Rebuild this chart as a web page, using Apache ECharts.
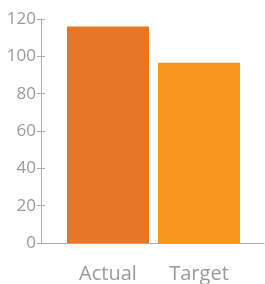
<!DOCTYPE html>
<html>
<head>
<meta charset="utf-8">
<script src="https://cdn.jsdelivr.net/npm/echarts@6/dist/echarts.min.js"></script>
<style>
html,body{margin:0;padding:0;background:#fff;}
#chart{width:265px;height:284px;}
</style>
</head>
<body>
<div id="chart"></div>
<script>
var categories = ['Actual', 'Target'];
var values = [116, 96.5];
var barColors = ['#E87627', '#F7951F'];
var yTicks = { min: 0, max: 120, interval: 20 };

var grey = '#999';
var font = '"Open Sans", sans-serif';

var option = {
    animation: false,
    grid: [
        {left: 62.5, right: 20.5, top: 19, bottom: 41},   // bars
        {left: 41, right: 1, top: 19, bottom: 41}          // axes frame
    ],
    xAxis: [
        {
            gridIndex: 0,
            type: 'category',
            data: categories,
            axisLine: {show: false},
            axisTick: {show: false},
            axisLabel: {color: grey, fontSize: 20, fontFamily: font, margin: 21}
        },
        {
            gridIndex: 1,
            type: 'category',
            data: [''],
            axisLine: {lineStyle: {color: '#aaa', width: 1}},
            axisTick: {show: false},
            axisLabel: {show: false}
        }
    ],
    yAxis: [
        {
            gridIndex: 0,
            type: 'value',
            min: yTicks.min, max: yTicks.max, interval: yTicks.interval,
            show: false
        },
        {
            gridIndex: 1,
            type: 'value',
            min: yTicks.min, max: yTicks.max, interval: yTicks.interval,
            splitLine: {show: false},
            axisLine: {show: true, lineStyle: {color: '#aaa'}},
            axisTick: {show: true, inside: true, length: 4, lineStyle: {color: '#aaa'}},
            axisLabel: {color: grey, fontSize: 17, fontFamily: font, margin: 5}
        },
        {
            gridIndex: 1,
            type: 'value',
            position: 'left',
            min: yTicks.min, max: yTicks.max, interval: yTicks.interval,
            splitLine: {show: false},
            axisLine: {show: false},
            axisTick: {show: true, length: 4, lineStyle: {color: '#aaa'}},
            axisLabel: {show: false}
        }
    ],
    series: [
        {
            type: 'bar',
            xAxisIndex: 0,
            yAxisIndex: 0,
            barWidth: 82,
            data: values.map(function (v, i) {
                return {value: v, itemStyle: {color: barColors[i]}};
            })
        }
    ]
};

echarts.init(document.getElementById('chart')).setOption(option);
</script>
</body>
</html>
